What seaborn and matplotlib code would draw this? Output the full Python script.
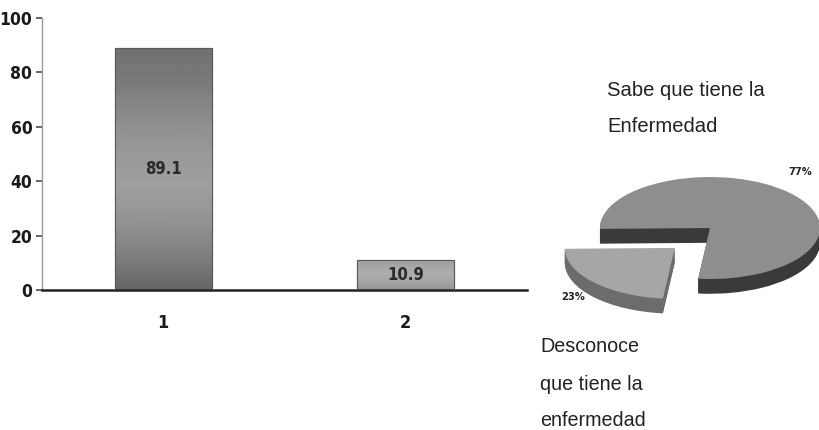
import numpy as np
import pandas as pd
import matplotlib
matplotlib.use("Agg")
import matplotlib.pyplot as plt
import seaborn as sns

# Bar chart data
categories = ["1", "2"]
percentages = [89.1, 10.9]
y_ticks = [0, 20, 40, 60, 80, 100]

# Pie chart data (desconoce, sabe)
pie_shares = [23, 77]
pie_title = ["Sabe que tiene la", "Enfermedad"]
pie_note = ["Desconoce", "que tiene la", "enfermedad"]

sns.set_theme(style="white")
plt.rcParams["font.family"] = ["Liberation Sans", "DejaVu Sans"]
narrow = dict(family=["DejaVu Sans"], fontweight="bold", fontstretch="condensed")

W, H = 820, 430
fig = plt.figure(figsize=(W / 100, H / 100), dpi=100)

# ---- bar chart ----
ax = fig.add_axes([42 / W, 1 - 290 / H, (527 - 42) / W, (290 - 18) / H])
df = pd.DataFrame({"grupo": categories, "valor": percentages})
sns.barplot(data=df, x="grupo", y="valor", hue="grupo",
            palette=["#8a8a8a", "#a8a8a8"], legend=False, width=0.4,
            edgecolor="#5a5a5a", linewidth=0.8, ax=ax)

# vertical shading inside each bar
profiles = [
    np.array([0.40, 0.50, 0.58, 0.62, 0.60, 0.55, 0.48, 0.44]),
    np.array([0.58, 0.64, 0.68, 0.66, 0.62]),
]
patches = [p for c in ax.containers for p in c]
for p, prof in zip(patches, profiles):
    x0, y0 = p.get_x(), p.get_y()
    w, h = p.get_width(), p.get_height()
    grad = np.interp(np.linspace(0, 1, 200), np.linspace(0, 1, len(prof)), prof)
    im = ax.imshow(grad[:, None], cmap="gray", vmin=0, vmax=1, origin="lower",
                   extent=[x0, x0 + w, y0, y0 + h], aspect="auto", zorder=2,
                   interpolation="bilinear")
    im.set_clip_path(p)
    ax.add_patch(plt.Rectangle((x0, y0), w, h, fill=False, edgecolor="#5a5a5a",
                               linewidth=0.8, zorder=3))

for p, v in zip(patches, percentages):
    ax.text(p.get_x() + p.get_width() / 2, v / 2, f"{v:.1f}", ha="center",
            va="center", fontsize=12, color="#2a2a2a", zorder=4, **narrow)

ax.set_xlim(-0.5, 1.5)
ax.set_ylim(0, 100)
ax.set_yticks(y_ticks)
ax.set_yticklabels([str(t) for t in y_ticks], fontsize=12.5, color="#1a1a1a", **narrow)
ax.set_xticks([0, 1])
ax.set_xticklabels(categories, fontsize=13, color="#1a1a1a", **narrow)
ax.set_xticks([-0.5, 0.5, 1.5], minor=True)
ax.tick_params(axis="x", which="major", length=0, pad=17)
ax.tick_params(axis="x", which="minor", length=4, color="#555555", direction="out")
ax.tick_params(axis="y", length=4, color="#555555", direction="out", left=True, pad=3)
ax.set_xlabel("")
ax.set_ylabel("")
for s in ["top", "right"]:
    ax.spines[s].set_visible(False)
ax.spines["left"].set_color("#9a9a9a")
ax.spines["left"].set_linewidth(1.0)
ax.spines["bottom"].set_color("#222222")
ax.spines["bottom"].set_linewidth(1.8)
ax.set_facecolor("none")

# ---- 3-D style pie ----
pax = fig.add_axes([540 / W, 1 - 320 / H, 280 / W, 170 / H])
depth = 0.29
small_center = (-0.32, -0.39)
start = 181
side_colors = [("#6c6c6c", "none"), ("none", "#3a3a3a")]
top_colors = [("#a6a6a6", "none"), ("none", "#8e8e8e")]
centers = [small_center, (0, 0)]
for d in np.linspace(depth, 0.02, 16):
    for (cx, cy), cols in zip(centers, side_colors):
        pax.pie(pie_shares, startangle=start, center=(cx, cy - d),
                colors=cols, wedgeprops=dict(linewidth=0))
for (cx, cy), cols in zip(centers, top_colors):
    pax.pie(pie_shares, startangle=start, center=(cx, cy),
            colors=cols, wedgeprops=dict(linewidth=0))
pax.set_aspect("auto")
pax.set_xlim(-1.545, 1.0)
pax.set_ylim(-1.804, 1.53)
pax.axis("off")

pax.text(0.82, 1.10, f"{pie_shares[1]}%", ha="center", va="center",
         fontsize=8, color="#222222", **narrow)
pax.text(-1.245, -1.35, f"{pie_shares[0]}%", ha="center", va="center",
         fontsize=8, color="#222222", **narrow)

for i, line in enumerate(pie_title):
    fig.text(607 / W, 1 - (90 + 37 * i) / H, line, ha="left", va="center",
             fontsize=14.6, color="#222222")
for i, line in enumerate(pie_note):
    fig.text(540 / W, 1 - (347 + 37 * i) / H, line, ha="left", va="center",
             fontsize=14.2, color="#222222")

fig.savefig("out.png", dpi=100, facecolor="white")
